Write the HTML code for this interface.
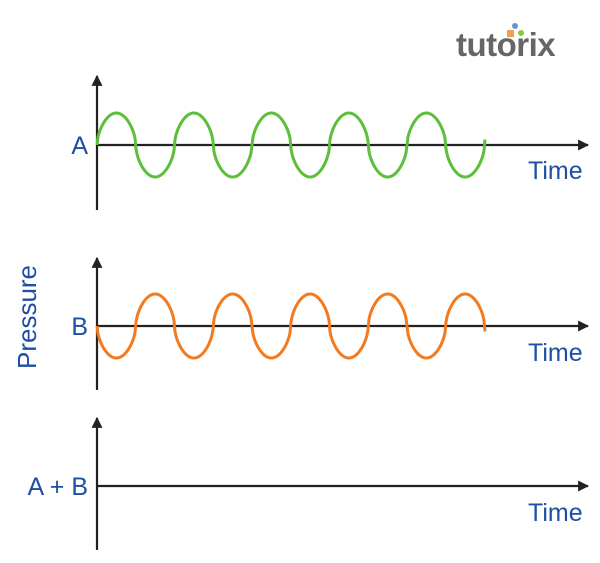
<!DOCTYPE html>
<html><head><meta charset="utf-8"><style>
html,body{margin:0;padding:0;background:#fff;width:600px;height:563px;overflow:hidden}
svg{display:block}
text{font-family:"Liberation Sans",sans-serif;fill:#1f4ea3}
</style></head><body>
<svg id="s" width="600" height="563" viewBox="0 0 600 563" xmlns="http://www.w3.org/2000/svg">
<defs><marker id="ar" viewBox="0 0 10 10" refX="9" refY="5" markerWidth="5" markerHeight="5" orient="auto"><path d="M0,0 L10,5 L0,10 z" fill="#222"/></marker></defs>
<g stroke="#222" stroke-width="2.2" fill="none">
<line x1="97" y1="210" x2="97" y2="76" marker-end="url(#ar)"/>
<line x1="97" y1="145" x2="588" y2="145" marker-end="url(#ar)"/>
<line x1="97" y1="390" x2="97" y2="258" marker-end="url(#ar)"/>
<line x1="97" y1="326" x2="588" y2="326" marker-end="url(#ar)"/>
<line x1="97" y1="550" x2="97" y2="418" marker-end="url(#ar)"/>
<line x1="97" y1="486" x2="588" y2="486" marker-end="url(#ar)"/>
</g>
<path id="wa" fill="none" stroke="#5cbf3a" stroke-width="3"/>
<path id="wb" fill="none" stroke="#f47a20" stroke-width="3"/>
<text x="88" y="154" font-size="25" text-anchor="end">A</text>
<text x="88" y="335" font-size="25" text-anchor="end">B</text>
<text x="88" y="495" font-size="25" text-anchor="end">A + B</text>
<text x="528" y="179" font-size="25">Time</text>
<text x="528" y="361" font-size="25">Time</text>
<text x="528" y="521" font-size="25">Time</text>
<text transform="translate(36,317) rotate(-90)" text-anchor="middle" font-size="26">Pressure</text>
<circle cx="515" cy="26" r="3" fill="#6a8fd6"/>
<rect x="507" y="30" width="7" height="7" fill="#f0a24a"/>
<circle cx="521" cy="33" r="3" fill="#8cc63f"/>
<text x="456" y="56" font-size="33" font-weight="bold" style="fill:#666;letter-spacing:-0.5px">tutorix</text>
</svg>
<script>
function w(id,y0,sgn){var d="",p=77.5,A=32;for(var i=0;i<=388;i++){var x=97+i,t=2*Math.PI*i/p,s=Math.sin(t);s=Math.sign(s)*Math.pow(Math.abs(s),0.55);d+=(i?"L":"M")+x+","+(y0-sgn*A*s).toFixed(2);}document.getElementById(id).setAttribute("d",d);}
w("wa",145,1);w("wb",326,-1);
</script>
</body></html>
